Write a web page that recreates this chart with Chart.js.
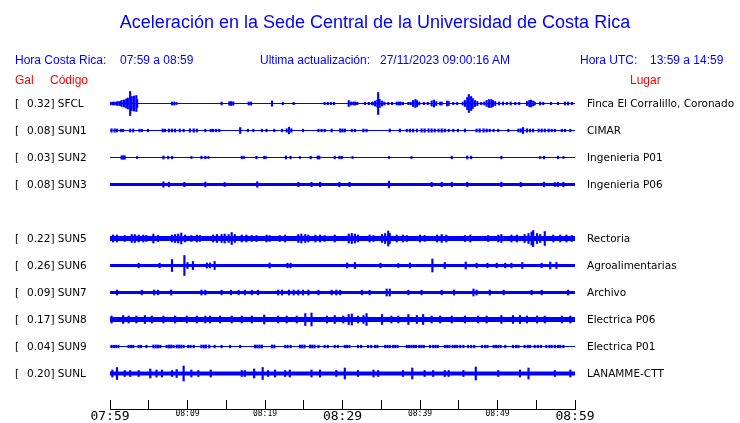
<!DOCTYPE html>
<html>
<head>
<meta charset="utf-8">
<script src="https://cdn.jsdelivr.net/npm/chart.js@4.4.0/dist/chart.umd.min.js"></script>
<style>
  body { margin: 0; background: #fff; }
  #wrap { position: relative; width: 740px; height: 423px; overflow: hidden; }
  #wrap canvas { position: absolute; left: 0; top: 0; }
  .t { position: absolute; white-space: pre; line-height: 1; transform: translateY(-50%);
       font-family: "Liberation Sans", Arial, sans-serif; font-size: 12px; color: #0000ff; }
  .red { color: #ff0000; }
  .st { font-family: "DejaVu Sans", sans-serif; font-size: 10.5px; color: #000; }
  #title { font-size: 18px; transform: translate(-50%, -50%); }
</style>
</head>
<body>
<div id="wrap">
  <canvas id="traces" width="740" height="423"></canvas>
  <canvas id="axis" width="740" height="423"></canvas>
  <div class="t" id="title" style="left:375px;top:22px">Aceleración en la Sede Central de la Universidad de Costa Rica</div>
  <div class="t" style="left:15px;top:60px">Hora Costa Rica:</div>
  <div class="t" style="left:120px;top:60px">07:59 a 08:59</div>
  <div class="t" style="left:260px;top:60px">Ultima actualización:</div>
  <div class="t" style="left:380px;top:60px">27/11/2023 09:00:16 AM</div>
  <div class="t" style="left:580px;top:60px">Hora UTC:</div>
  <div class="t" style="left:650px;top:60px">13:59 a 14:59</div>
  <div class="t red" style="left:15px;top:80px">Gal</div>
  <div class="t red" style="left:50px;top:80px">Código</div>
  <div class="t red" style="left:630px;top:80px">Lugar</div>
</div>
<script>
// stations
const codes = ['SFCL', 'SUN1', 'SUN2', 'SUN3', 'SUN5', 'SUN6', 'SUN7', 'SUN8', 'SUN9', 'SUNL'];
const peakGal = [0.32, 0.08, 0.03, 0.08, 0.22, 0.26, 0.09, 0.17, 0.04, 0.20];
const places = ['Finca El Corralillo, Coronado', 'CIMAR', 'Ingenieria P01', 'Ingenieria P06', 'Rectoria',
  'Agroalimentarias', 'Archivo', 'Electrica P06', 'Electrica P01', 'LANAMME-CTT'];
// background noise half-amplitude of each trace
const noiseLevel = [0.5, 0.5, 0.5, 1.5, 2.5, 1.5, 1.5, 2.5, 0.5, 2];
const clockTicks = ['07:59', '08:09', '08:19', '08:29', '08:39', '08:49', '08:59'];

// bursts: [minutes after 07:59, half amplitude]
const sfcl = [[0.0,1.3],[0.3,1.3],[0.5,1.5],[0.8,1.5],[1.0,2],[1.3,2],[1.5,3],[1.8,3.5],[2.1,4.5],[2.3,5.5],[2.6,12],[2.8,7],[3.1,7.5],[3.4,8],[3.5,4],
  [8.0,1.5],[8.3,1.5],[8.6,1],[14.4,1.5],[15.4,1.7],[15.6,2],[15.9,1.7],[17.9,1.5],[18.2,1.5],[20.9,2.7],[22.3,1.2],[23.7,1.2],
  [27.7,1.2],[28.1,1.2],[28.5,1.2],[28.9,1.2],[30.8,3],[31.1,1.5],[31.4,1.5],[31.6,1.5],[31.9,1.2],[32.9,1.2],[33.4,1.2],[33.8,1.2],
  [33.9,1.5],[34.2,2.5],[34.5,3.5],[34.6,11],[34.8,4],[35.1,2.5],[35.4,1.5],[35.9,1.2],[36.4,1.2],[37.0,1.5],[37.3,1.5],[37.5,1.5],[37.8,1.2],
  [38.5,1.2],[38.8,1.2],[39.1,3],[39.4,4],[39.6,3],[39.9,1.5],[40.5,1.2],[41.0,1.2],[41.5,2.5],[41.8,3.5],[42.1,2],[42.6,1.5],[42.8,1.5],[43.5,2.5],[43.7,2],
  [44.3,1.2],[44.8,1.2],[45.5,1.5],[45.8,3],[46.1,6],[46.3,9],[46.6,7],[46.8,5],[47.1,3],[47.4,2],[47.9,1.2],[48.3,1.5],
  [48.6,3],[48.9,4],[49.2,4],[49.4,3],[49.7,2],[50.2,1.5],[50.7,1.5],[51.2,1.2],[51.7,1.5],[52.3,1.2],[52.8,1.2],
  [53.8,2],[54.1,3],[54.3,3.5],[54.6,2.5],[54.8,1.5],[55.5,1.5],[55.9,1.2],[56.9,1.2],[57.8,1.2],[58.7,1.5],[59.1,1.5],[59.6,1.2]];
const sun1 = [[0.2,1.7],[0.6,1.7],[0.9,1.5],[1.4,1.3],[1.7,1.3],[2.6,1.5],[3.0,1.5],[3.8,1.3],[4.1,1.3],[4.9,1.3],[6.8,1.5],[7.1,1.3],[7.6,1.5],[8.0,1.5],[8.4,1.5],
  [9.0,1.5],[9.5,1.3],[10.3,1.7],[10.8,1.7],[11.2,1.5],[12.3,1.3],[13.0,1.3],[13.3,1.3],[13.7,1.3],[14.1,1.3],[16.8,3],[17.8,1.3],[18.5,1.3],[19.6,1.3],
  [20.2,1.3],[21.2,1.3],[22.2,1.3],[22.8,1.7],[23.1,3.3],[23.4,1.7],[24.9,1.3],[26.9,1.3],[27.3,1.3],[27.7,1.3],[28.6,1.5],[29.7,1.7],[30.0,1.5],[30.3,1.5],
  [31.2,1.3],[31.6,1.3],[32.7,1.5],[33.1,1.3],[36.1,1.5],[37.4,1.5],[38.3,1.3],[38.7,1.5],[39.1,1.5],[39.6,1.5],[40.2,1.7],[40.6,1.7],[41.1,1.7],[41.5,1.7],
  [41.9,1.5],[42.4,1.5],[42.8,1.7],[43.2,1.5],[43.7,1.3],[44.3,1.3],[44.9,1.3],[45.8,1.5],[47.3,1.5],[47.7,1.7],[48.2,1.7],[48.6,1.5],[49.0,1.3],[49.5,1.3],
  [50.1,1.3],[51.4,1.3],[52.7,1.5],[53.0,1.7],[53.3,3],[53.8,1.7],[54.2,1.5],[54.6,1.5],[55.3,1.5],[55.7,1.5],[56.1,1.5],[56.6,1.5],[57.0,1.3],[57.4,1.3],
  [58.3,1.3],[58.7,1.3],[59.4,1.3]];
const sun2 = [[1.5,1.7],[1.7,1.7],[1.9,1.7],[3.5,1],[6.9,1.5],[7.5,1.3],[8.0,1.3],[10.5,1],[11.8,1.3],[12.3,1.3],[12.7,1],[17.0,1.3],[17.3,1],[18.9,1.3],
  [19.9,1.3],[20.1,1],[22.7,1.5],[23.3,1.3],[24.5,1],[25.9,1.3],[26.8,1.5],[27.0,1.5],[29.0,1.3],[29.6,1.3],[29.9,1.3],[31.3,1],[36.0,1],[38.9,1],
  [44.1,1.3],[46.1,1.5],[46.6,1.3],[50.5,1.3],[55.5,1],[56.0,1.3],[57.8,1.3],[58.5,1]];
const sun3 = [[6.9,2.7],[7.6,2.3],[9.6,2.2],[12.3,2.5],[14.8,2],[19.0,2.7],[24.3,2.2],[26.0,2.2],[27.1,2.3],[29.6,2.3],[30.9,2.2],[36.0,3.3],
  [41.5,2.2],[42.8,2.2],[44.1,2.3],[46.1,2.3],[50.5,2.3],[53.0,2.2],[56.0,2.3],[57.4,2],[57.8,2.2],[58.5,2.3]];
const sun5 = [[0.4,3.5],[0.9,3.5],[1.9,3],[2.8,4],[3.2,4],[3.7,3.5],[4.3,3.5],[4.7,3],[5.6,4.5],[6.2,3],[8.0,3.5],[8.4,4],[8.8,4.5],[9.2,5.5],[9.7,3.5],
  [10.5,3],[11.2,3.5],[11.6,3],[13.3,3.5],[13.8,4],[14.4,4],[14.8,4.5],[15.3,4],[15.7,6],[16.1,4],[17.0,3.5],[17.6,3.5],[18.3,3],[18.9,3],[20.2,3.5],
  [20.6,3],[21.9,3],[22.6,3.5],[24.3,4],[24.7,4.5],[25.2,4],[25.6,3.5],[26.5,3.5],[27.1,3.5],[27.7,3],[29.0,3.5],[30.8,4.5],[31.2,5],[31.6,4.5],[32.0,3.5],
  [33.5,3.5],[34.0,3],[35.1,4],[35.5,5],[35.9,7.5],[36.1,5],[37.0,3.5],[37.8,3.5],[38.3,3],[40.0,3.5],[40.6,3],[42.2,3.5],[42.8,4],[43.4,3.5],[45.8,3],
  [46.5,3.5],[48.8,3],[50.1,3.5],[50.5,4],[51.8,3.5],[52.5,3.5],[53.5,4],[54.0,5],[54.4,6.5],[54.6,8],[55.1,5],[55.5,4],[56.1,7],[57.2,3.5],[58.1,3.5],
  [58.9,3.5],[59.6,3]];
const sun6 = [[3.7,2.3],[6.4,2.3],[8.0,6],[9.6,10],[10.0,3],[10.7,4],[12.5,2.5],[12.9,2.5],[13.5,4],[20.6,2.5],[22.9,2.3],[23.3,2.3],[30.6,2.5],[31.6,3],
  [34.9,2.3],[37.2,2],[38.7,2.5],[41.6,6.5],[43.2,3],[45.9,3.5],[47.3,2.3],[48.7,2.3],[49.9,2.3],[51.0,2.3],[51.8,2.3],[53.2,3],[55.7,2.3],[56.8,3.5],[57.6,3]];
const sun7 = [[0.9,2.5],[4.1,2.3],[5.7,2.5],[6.2,2.3],[7.9,2.5],[11.8,2.5],[12.3,2.3],[14.4,2.3],[15.6,2.3],[16.6,2.3],[17.4,2.3],[18.3,2.3],[19.1,2.3],
  [21.7,2.5],[22.2,2.5],[23.1,2.5],[23.7,2.5],[24.3,2.5],[24.9,2.5],[25.6,2.5],[26.9,2.3],[28.6,2.3],[29.2,2.5],[29.7,2.3],[32.5,2.3],[33.5,2.3],
  [35.7,3.5],[36.1,3.5],[38.5,2.3],[40.2,2.3],[42.8,2.3],[44.4,2.5],[46.9,3.5],[47.3,2.5],[49.0,2.5],[50.8,2.3],[54.4,2.3],[55.7,2.3],[59.1,2.5]];
const sun8 = [[0.2,3.5],[1.7,4],[2.4,3.5],[3.4,3.5],[4.5,4],[5.4,3.5],[6.9,3.5],[8.4,3.5],[9.9,3.5],[11.2,3.5],[12.3,3.5],[12.9,3.5],[14.2,3.5],[15.7,3.5],
  [17.0,3.5],[18.3,3.5],[19.9,4.5],[21.7,3.5],[22.8,3.5],[24.1,3.5],[25.2,6],[26.0,6.5],[28.0,3.5],[29.0,4],[30.1,3.5],[30.8,5],[31.2,5.5],[32.0,3.5],
  [32.7,4],[33.1,6],[35.1,5],[36.3,3.5],[37.2,3.5],[38.5,5],[39.6,4],[40.4,5],[41.5,3.5],[42.6,3.5],[44.1,3.5],[45.8,3.5],[47.5,3.5],[48.6,3.5],
  [50.5,4],[52.0,4],[52.9,4],[53.8,3.5],[55.1,3.5],[56.1,3.5],[58.3,3.5],[59.4,3.5]];
const sun9 = [[0.2,1.3],[0.5,1.3],[0.8,1.3],[1.1,1.3],[2.4,1.3],[2.7,1.3],[3.0,1.3],[3.7,1.3],[4.0,1.3],[4.7,1.3],[5.6,1.5],[5.9,1.5],[6.2,1.5],[6.5,1.3],
  [7.3,1.3],[7.6,1.5],[7.9,1.5],[8.2,1.3],[8.6,1.5],[8.9,1.5],[9.2,1.5],[9.5,1.3],[10.1,1.3],[10.4,1.3],[10.8,1.3],[11.8,1.5],[12.1,1.5],[12.4,1.5],
  [12.8,1.5],[13.5,1.3],[14.4,1.3],[15.5,1.3],[16.8,1.3],[18.7,1.5],[19.0,1.5],[19.3,1.5],[19.6,1.5],[20.9,1.5],[21.2,1.5],[22.6,1.3],[22.9,1.3],
  [23.3,1.3],[24.5,1.5],[24.8,1.5],[25.1,1.5],[25.8,1.5],[26.1,1.5],[26.4,1.5],[26.9,1.3],[27.7,1.3],[28.1,1.3],[29.0,1.3],[29.4,1.3],[30.3,1.3],
  [30.6,1.3],[30.9,1.3],[32.0,1.3],[32.4,1.3],[33.3,1.3],[33.7,1.3],[34.2,1.3],[34.5,1.3],[35.5,1.3],[35.8,1.3],[36.1,1.3],[36.5,1.3],[36.8,1.3],
  [37.1,1.3],[38.3,1.3],[38.6,1.3],[38.9,1.3],[39.2,1.3],[39.5,1.3],[39.9,1.3],[40.2,1.3],[40.5,1.3],[41.3,1.3],[41.7,1.3],[42.0,1.3],[42.3,1.3],
  [43.2,1.3],[43.5,1.3],[43.8,1.3],[44.2,1.3],[44.5,1.3],[44.8,1.3],[45.2,1.3],[45.6,1.3],[46.2,1.3],[46.6,1.3],[47.0,1.3],[48.0,1.3],[48.4,1.3],
  [48.7,1.3],[49.5,1.3],[49.8,1.3],[50.1,1.3],[50.4,1.3],[51.0,1.3],[52.0,1.3],[52.4,1.3],[52.7,1.3],[53.5,1.3],[53.9,1.3],[54.2,1.3],[54.8,1.3],
  [55.2,1.3],[55.6,1.3],[56.3,1.3],[56.7,1.3],[57.0,1.3],[57.4,1.3],[57.8,1.3],[58.1,1.3],[58.5,1.3]];
const sunl = [[0.3,3.5],[0.9,6],[1.9,3],[2.6,3],[3.7,3],[5.2,4.5],[6.0,3.5],[6.7,3.5],[8.0,3],[8.6,4],[9.5,7.5],[10.5,3.5],[11.4,3],[13.0,3.5],
  [17.0,3],[17.4,3],[18.6,4.5],[19.7,6],[20.4,3],[21.3,3.5],[22.6,3],[23.2,3.5],[26.0,3.5],[27.1,3.5],[29.2,3],[30.3,5.5],[32.0,3],[34.0,3.5],
  [34.6,3],[37.8,3],[39.0,5.5],[40.6,3],[41.7,3],[43.2,3],[43.7,3],[45.6,3],[47.2,6.5],[50.1,3],[52.9,3.5],[54.0,5.5],[57.4,3],[59.4,3.5]];
const bursts = [sfcl, sun1, sun2, sun3, sun5, sun6, sun7, sun8, sun9, sunl];

// layout
const ROW_GAP = 27;
const rowSlot = [0, 1, 2, 3, 5, 6, 7, 8, 9, 10];
const PLOT = { left: 110, right: 165, top: 76, bottom: 14 };
const BLUE = '#0000ff';

const wrap = document.getElementById('wrap');
function put(text, x, y, cls) {
  const d = document.createElement('div');
  d.className = 't ' + cls;
  d.textContent = text;
  d.style.left = x + 'px';
  d.style.top = y + 'px';
  wrap.appendChild(d);
}

const datasets = [];
codes.forEach((code, i) => {
  const rowVal = (rowSlot[i] + 1) * ROW_GAP;
  const y = PLOT.top + rowVal;
  put('[', 15, y, 'st');
  put(peakGal[i].toFixed(2) + '] ' + code, 27, y, 'st');
  put(places[i], 587, y, 'st');

  datasets.push({
    type: 'line',
    data: [{ x: 0, y: rowVal }, { x: 60, y: rowVal }],
    borderColor: BLUE,
    borderWidth: Math.max(1, noiseLevel[i] * 2),
    borderCapStyle: 'butt',
    pointRadius: 0
  });
  datasets.push({
    type: 'bar',
    data: bursts[i].map(b => ({ x: b[0], y: [rowVal - b[1], rowVal + b[1]] })),
    backgroundColor: BLUE,
    borderWidth: 0,
    barThickness: 1.5,
    grouped: false
  });
});

new Chart(document.getElementById('traces'), {
  type: 'bar',
  data: { datasets: datasets },
  options: {
    responsive: false,
    animation: false,
    layout: { padding: PLOT },
    plugins: { legend: { display: false }, tooltip: { enabled: false } },
    scales: {
      x: { type: 'linear', min: 0, max: 60, offset: false, display: false },
      // half-unit shift keeps the 1px traces on whole pixels
      y: { type: 'linear', min: -0.5, max: 332.5, reverse: true, display: false }
    }
  }
});

// time axis with ticks pointing up
new Chart(document.getElementById('axis'), {
  type: 'line',
  data: { datasets: [] },
  options: {
    responsive: false,
    animation: false,
    layout: { padding: { left: PLOT.left, right: PLOT.right, top: 400, bottom: 0 } },
    plugins: { legend: { display: false }, tooltip: { enabled: false } },
    scales: {
      x: {
        type: 'linear', min: 0, max: 60,
        afterFit: s => { s.height = 14; },
        grid: { color: '#000', lineWidth: 1, drawTicks: false, drawOnChartArea: true },
        border: { display: true, color: '#000', width: 1 },
        ticks: {
          stepSize: 5, autoSkip: false, maxRotation: 0, padding: 0, color: '#000',
          callback: v => (v % 10 === 0 ? clockTicks[v / 10] : ''),
          font: ctx => ({ family: 'DejaVu Sans Mono', size: ctx.tick && ctx.tick.value % 30 === 0 ? 13 : 8 })
        }
      },
      y: { display: false, min: 0, max: 1 }
    }
  }
});
</script>
</body>
</html>
